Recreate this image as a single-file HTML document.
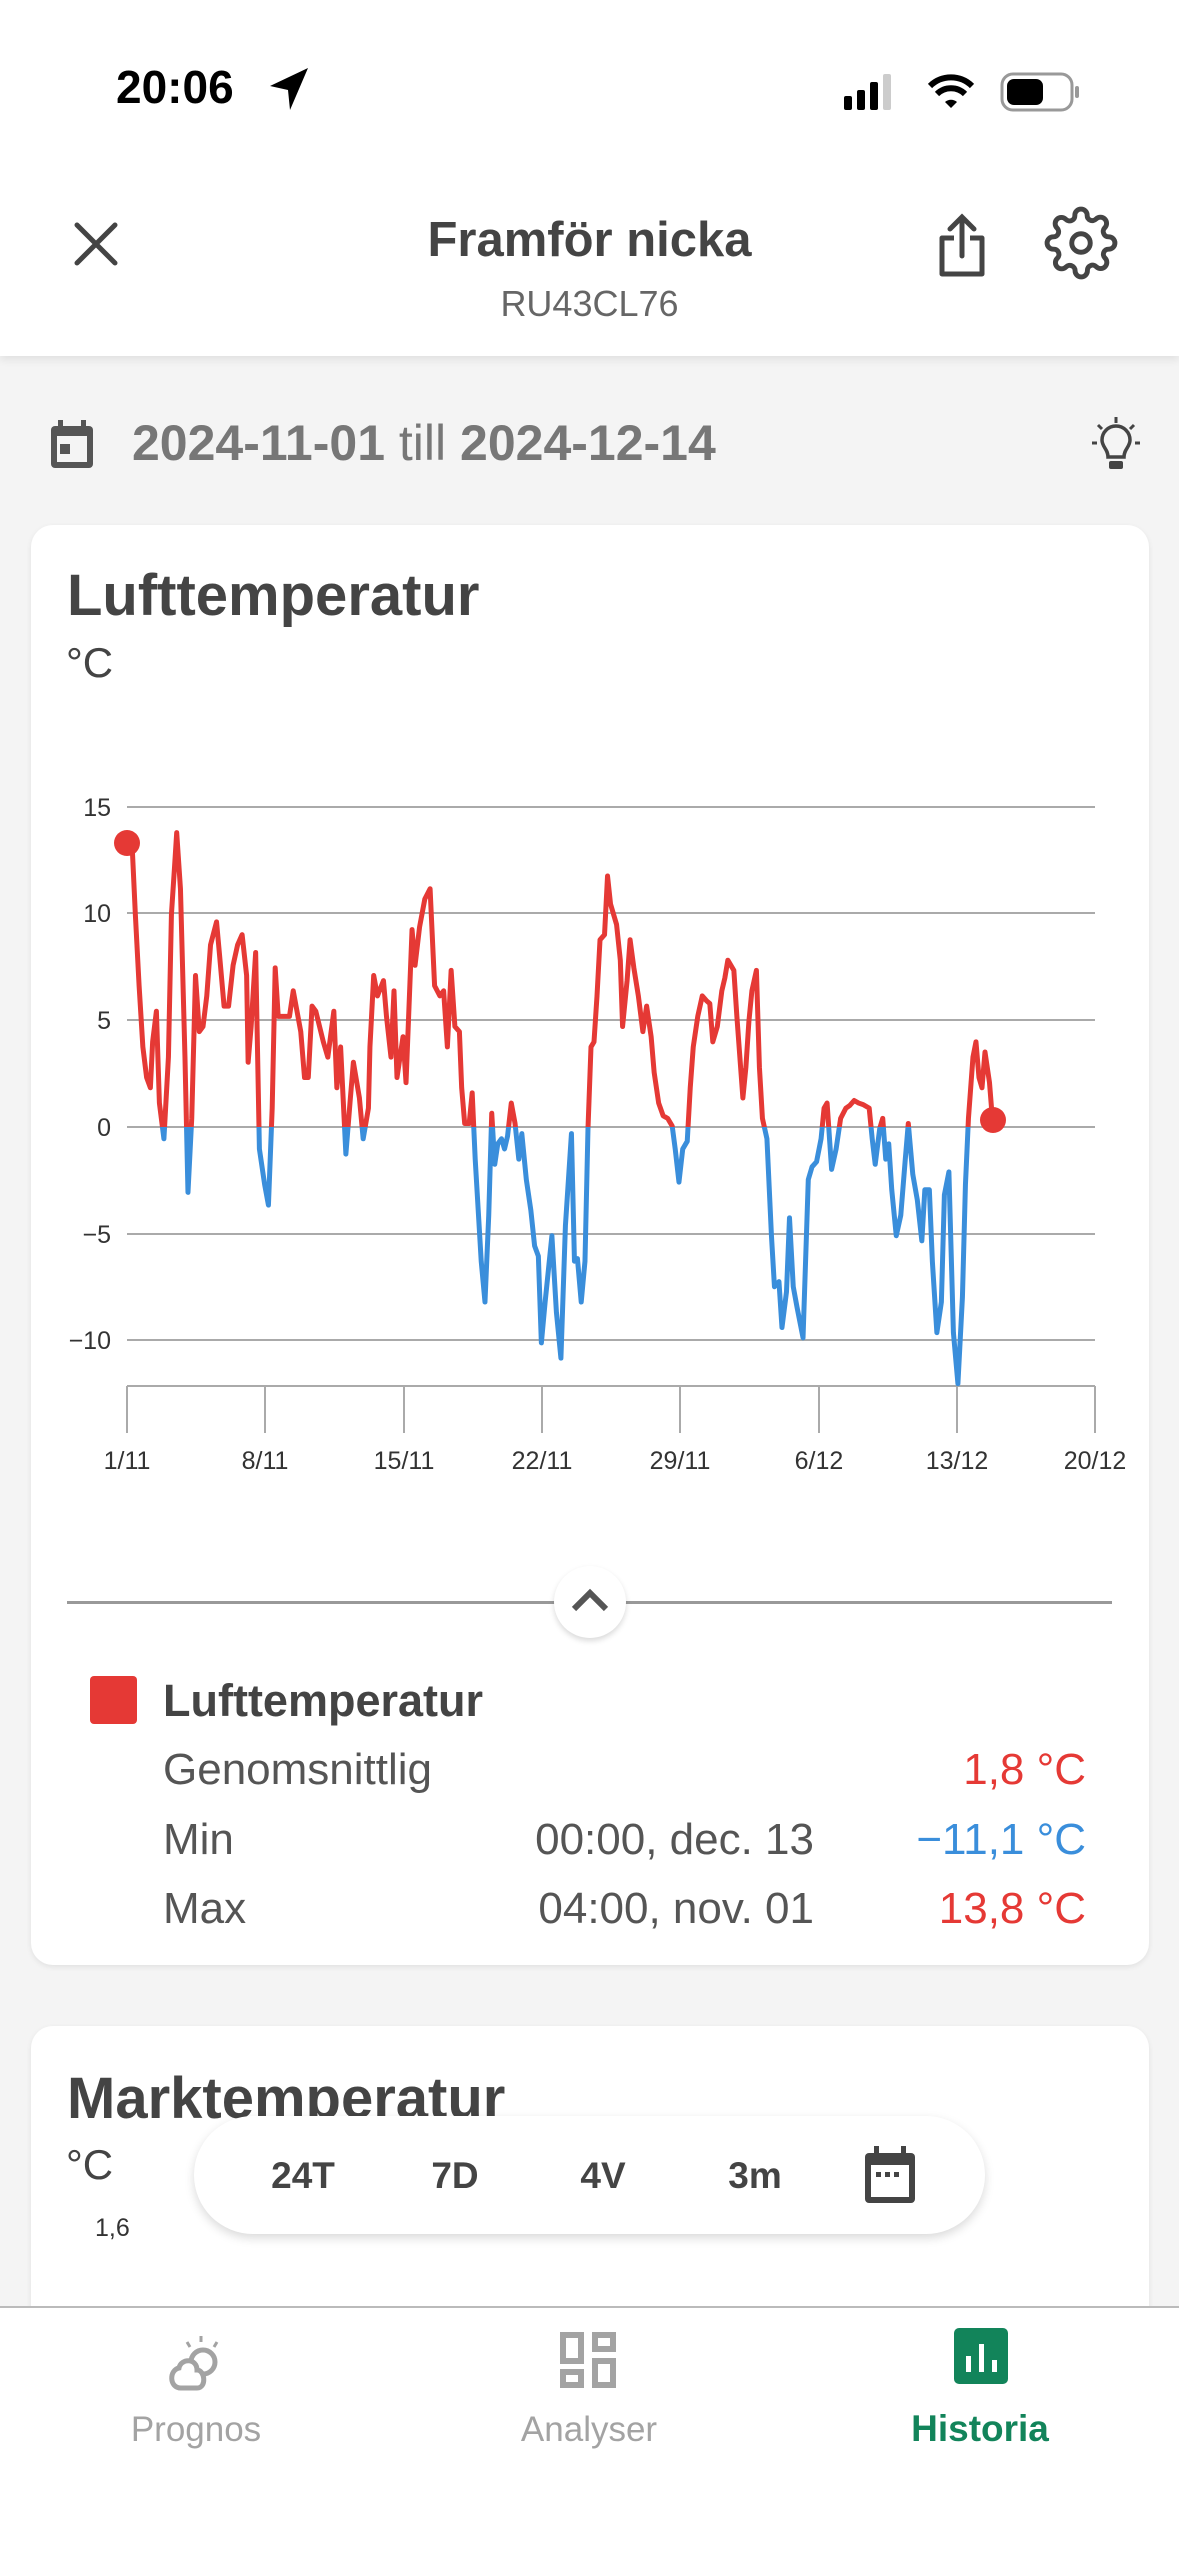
<!DOCTYPE html>
<html><head><meta charset="utf-8">
<style>
*{margin:0;padding:0;box-sizing:border-box}
html,body{width:1179px;height:2556px;overflow:hidden;background:#f4f4f4;font-family:"Liberation Sans",sans-serif}
.abs{position:absolute}
.t{position:absolute;white-space:nowrap;line-height:1}
</style></head><body>
<div class="abs" style="left:0;top:0;width:1179px;height:356px;background:#fff;box-shadow:0 4px 8px rgba(0,0,0,0.08)"></div>
<div class="t" style="left:116px;top:64px;font-size:46px;font-weight:bold;color:#000">20:06</div>
<svg class="abs" style="left:268px;top:66px" width="42" height="46" viewBox="0 0 42 46"><path d="M40 2 L2 20 L20 24 L22 44 Z" fill="#000"/></svg>
<svg class="abs" style="left:840px;top:66px" width="250" height="50" viewBox="0 0 250 50">
<rect x="4" y="30" width="8" height="14" rx="2" fill="#000"/><rect x="17" y="24" width="8" height="20" rx="2" fill="#000"/><rect x="30" y="16" width="8" height="28" rx="2" fill="#000"/><rect x="43" y="8" width="8" height="36" rx="2" fill="#ccc"/>
<path d="M90 20 a30 30 0 0 1 42 0" stroke="#000" stroke-width="6" fill="none"/><path d="M97 28 a20 20 0 0 1 28 0" stroke="#000" stroke-width="6" fill="none"/><path d="M105 36 l6 6 l6 -6 a9 9 0 0 0 -12 0z" fill="#000"/>
<rect x="162" y="8" width="70" height="36" rx="11" stroke="#999" stroke-width="3" fill="none"/><rect x="167" y="13" width="36" height="26" rx="7" fill="#000"/><rect x="235" y="20" width="4" height="12" rx="2" fill="#999"/>
</svg>
<svg class="abs" style="left:72px;top:220px" width="48" height="48" viewBox="0 0 48 48"><path d="M5 5 L43 43 M43 5 L5 43" stroke="#444" stroke-width="5" stroke-linecap="round"/></svg>
<div class="t" style="left:0;width:1179px;text-align:center;top:216px;font-size:49px;font-weight:bold;color:#444">Framför nicka</div>
<div class="t" style="left:0;width:1179px;text-align:center;top:286px;font-size:36px;color:#666">RU43CL76</div>
<svg class="abs" style="left:934px;top:212px" width="56" height="66" viewBox="0 0 56 66"><path d="M20 26 H8 V62 H48 V26 H36" stroke="#444" stroke-width="5" fill="none" stroke-linejoin="round"/><path d="M28 44 V6 M16 17 L28 5 L40 17" stroke="#444" stroke-width="5" fill="none" stroke-linecap="round"/></svg>
<svg class="abs" style="left:1044px;top:206px" width="74" height="74" viewBox="0 0 24 24"><path d="M12 15a3 3 0 1 0 0-6 3 3 0 0 0 0 6z" stroke="#444" stroke-width="1.6" fill="none"/><path d="M19.4 15a1.650 1.650 0 0 0 .33 1.82l.06.06a2 2 0 1 1-2.830 2.830l-.06-.06a1.650 1.650 0 0 0-1.820-.33 1.650 1.650 0 0 0-1 1.510V21a2 2 0 1 1-4 0v-.09A1.650 1.650 0 0 0 9 19.4a1.650 1.650 0 0 0-1.820.33l-.06.06a2 2 0 1 1-2.830-2.830l.06-.06A1.650 1.650 0 0 0 4.680 15a1.650 1.650 0 0 0-1.510-1H3a2 2 0 1 1 0-4h.09A1.650 1.650 0 0 0 4.6 9a1.650 1.650 0 0 0-.33-1.820l-.06-.06a2 2 0 1 1 2.830-2.830l.06.06A1.650 1.650 0 0 0 9 4.680a1.650 1.650 0 0 0 1-1.510V3a2 2 0 1 1 4 0v.09a1.650 1.650 0 0 0 1 1.510 1.650 1.650 0 0 0 1.820-.33l.06-.06a2 2 0 1 1 2.830 2.830l-.06.06A1.650 1.650 0 0 0 19.4 9a1.650 1.650 0 0 0 1.510 1H21a2 2 0 1 1 0 4h-.09a1.650 1.650 0 0 0-1.510 1z" stroke="#444" stroke-width="1.6" fill="none"/></svg>

<svg class="abs" style="left:48px;top:418px" width="48" height="52" viewBox="0 0 48 52"><rect x="3" y="8" width="42" height="42" rx="4" fill="#555"/><rect x="9" y="18" width="30" height="26" fill="#f4f4f4"/><rect x="12" y="26" width="10" height="10" fill="#555"/><rect x="10" y="2" width="5" height="10" fill="#555"/><rect x="33" y="2" width="5" height="10" fill="#555"/></svg>
<div class="t" style="left:132px;top:418px;font-size:50px;color:#777"><b>2024-11-01</b> till <b>2024-12-14</b></div>
<svg class="abs" style="left:1090px;top:415px" width="52" height="58" viewBox="0 0 52 58"><path d="M26 2 V8 M8 10 L12 14 M44 10 L40 14 M2 28 H7 M45 28 H50" stroke="#444" stroke-width="3"/><path d="M18 42 C18 34 12 32 12 25 A14 14 0 0 1 40 25 C40 32 34 34 34 42 Z" stroke="#444" stroke-width="3.5" fill="none"/><rect x="19" y="46" width="14" height="8" rx="2" fill="#444"/></svg>

<!-- card 1 -->
<div class="abs" style="left:31px;top:525px;width:1118px;height:1440px;background:#fff;border-radius:22px;box-shadow:0 2px 6px rgba(0,0,0,0.08)"></div>
<div class="t" style="left:67px;top:567px;font-size:58px;font-weight:bold;color:#444">Lufttemperatur</div>
<div class="t" style="left:66px;top:642px;font-size:42px;color:#444">°C</div>

<svg class="abs" style="left:0;top:700px" width="1179" height="800" viewBox="0 700 1179 800">
<defs>
<clipPath id="above" clipPathUnits="userSpaceOnUse"><rect x="0" y="0" width="1568" height="837"/></clipPath>
<clipPath id="below" clipPathUnits="userSpaceOnUse"><rect x="0" y="837" width="1568" height="900"/></clipPath>
</defs>
<g stroke="#aaa" stroke-width="2">
<line x1="127" y1="807" x2="1095" y2="807"/><line x1="127" y1="913" x2="1095" y2="913"/><line x1="127" y1="1020" x2="1095" y2="1020"/><line x1="127" y1="1127" x2="1095" y2="1127"/><line x1="127" y1="1234" x2="1095" y2="1234"/><line x1="127" y1="1340" x2="1095" y2="1340"/><line x1="127" y1="1386" x2="1095" y2="1386"/>
<line x1="127" y1="1386" x2="127" y2="1433"/><line x1="265" y1="1386" x2="265" y2="1433"/><line x1="404" y1="1386" x2="404" y2="1433"/><line x1="542" y1="1386" x2="542" y2="1433"/><line x1="680" y1="1386" x2="680" y2="1433"/><line x1="819" y1="1386" x2="819" y2="1433"/><line x1="957" y1="1386" x2="957" y2="1433"/><line x1="1095" y1="1386" x2="1095" y2="1433"/>
</g>
<g font-family="Liberation Sans,sans-serif" font-size="25" fill="#333" text-anchor="end">
<text x="111" y="816">15</text><text x="111" y="922">10</text><text x="111" y="1029">5</text><text x="111" y="1136">0</text><text x="111" y="1243">−5</text><text x="111" y="1349">−10</text>
</g>
<g font-family="Liberation Sans,sans-serif" font-size="25" fill="#333" text-anchor="middle">
<text x="127" y="1469">1/11</text><text x="265" y="1469">8/11</text><text x="404" y="1469">15/11</text><text x="542" y="1469">22/11</text><text x="680" y="1469">29/11</text><text x="819" y="1469">6/12</text><text x="957" y="1469">13/12</text><text x="1095" y="1469">20/12</text>
</g>
<g transform="translate(0,700) scale(0.7519,0.5102)">
<defs><polyline id="ser" fill="none" stroke-width="5" vector-effect="non-scaling-stroke" stroke-linejoin="round" points="169,280 175,262 180,420 185,560 190,680 195,740 200,760 203,670 208,610 212,790 218,860 224,700 228,420 232,330 235,260 240,370 246,700 250,965 255,820 260,540 265,650 270,640 275,580 280,480 288,435 292,500 298,600 304,600 310,520 316,480 322,460 328,540 330,710 334,640 340,495 345,880 352,950 357,990 362,800 366,525 370,620 385,620 390,570 395,610 400,650 405,740 410,740 415,600 420,610 430,670 436,700 444,610 448,760 453,680 460,890 466,780 470,710 478,780 483,860 490,800 492,680 497,540 502,580 510,550 514,620 520,700 524,570 528,740 536,660 540,750 548,450 552,520 558,445 565,390 572,370 578,560 585,580 590,570 595,680 600,530 605,640 611,650 614,760 618,830 624,830 628,770 632,900 636,1000 640,1100 645,1180 650,1010 654,810 658,910 662,870 667,860 671,880 675,855 680,790 685,830 690,900 694,850 700,940 706,1000 711,1070 716,1090 720,1260 725,1180 734,1050 740,1200 746,1290 752,1030 760,850 764,1100 768,1095 773,1180 778,1100 782,840 786,680 790,670 794,580 798,470 804,460 808,345 812,400 820,440 825,510 828,640 834,550 838,470 843,525 849,580 855,650 860,600 866,660 870,730 876,790 882,815 888,820 894,835 898,880 903,945 908,880 914,865 918,760 922,680 928,620 934,580 940,590 944,595 948,670 954,640 960,570 964,545 968,510 972,520 976,530 980,620 984,700 988,780 992,720 996,630 1000,570 1006,530 1010,720 1014,820 1020,860 1026,1050 1030,1150 1036,1140 1040,1230 1046,1160 1050,1015 1055,1150 1060,1190 1068,1250 1075,940 1080,915 1086,905 1092,860 1096,800 1100,790 1106,920 1112,880 1118,820 1125,800 1130,795 1136,785 1142,790 1148,793 1156,800 1160,860 1164,910 1170,840 1174,820 1178,900 1182,870 1186,960 1192,1050 1198,1010 1204,900 1208,830 1214,930 1220,980 1226,1060 1230,960 1236,960 1240,1100 1246,1240 1252,1180 1256,970 1262,925 1268,1240 1274,1340 1280,1170 1284,950 1288,820 1294,700 1298,670 1302,740 1306,760 1310,690 1316,750 1320,824"/></defs>
<use href="#ser" stroke="#e53935" clip-path="url(#above)"/>
<use href="#ser" stroke="#3a8edb" clip-path="url(#below)"/>
</g>
<circle cx="127" cy="843" r="13" fill="#e53935"/>
<circle cx="993" cy="1120" r="13" fill="#e53935"/>
</svg>

<div class="abs" style="left:67px;top:1601px;width:1045px;height:3px;background:#999"></div>
<div class="abs" style="left:554px;top:1566px;width:72px;height:72px;border-radius:50%;background:#fff;box-shadow:0 3px 6px rgba(0,0,0,0.15)"></div>
<svg class="abs" style="left:570px;top:1585px" width="40" height="30" viewBox="0 0 40 30"><path d="M4 24 L20 8 L36 24" stroke="#555" stroke-width="6" fill="none"/></svg>

<div class="abs" style="left:90px;top:1676px;width:47px;height:48px;background:#e53935;border-radius:4px"></div>
<div class="t" style="left:163px;top:1678px;font-size:45px;font-weight:bold;color:#444">Lufttemperatur</div>
<div class="t" style="left:163px;top:1748px;font-size:44px;color:#555">Genomsnittlig</div>
<div class="t" style="left:163px;top:1818px;font-size:44px;color:#555">Min</div>
<div class="t" style="left:163px;top:1887px;font-size:44px;color:#555">Max</div>
<div class="t" style="right:365px;top:1818px;font-size:44px;color:#555">00:00, dec. 13</div>
<div class="t" style="right:365px;top:1887px;font-size:44px;color:#555">04:00, nov. 01</div>
<div class="t" style="right:93px;top:1748px;font-size:44px;color:#e53935">1,8 °C</div>
<div class="t" style="right:93px;top:1818px;font-size:44px;color:#3a8edb">−11,1 °C</div>
<div class="t" style="right:93px;top:1887px;font-size:44px;color:#e53935">13,8 °C</div>

<!-- card 2 -->
<div class="abs" style="left:31px;top:2026px;width:1118px;height:400px;background:#fff;border-radius:22px;box-shadow:0 2px 6px rgba(0,0,0,0.08)"></div>
<div class="t" style="left:67px;top:2070px;font-size:58px;font-weight:bold;color:#444">Marktemperatur</div>
<div class="t" style="left:66px;top:2144px;font-size:42px;color:#444">°C</div>
<div class="t" style="left:95px;top:2216px;font-size:25px;color:#333">1,6</div>

<div class="abs" style="left:194px;top:2116px;width:791px;height:118px;border-radius:59px;background:#fff;box-shadow:0 4px 10px rgba(0,0,0,0.15)"></div>
<div class="t" style="left:303px;top:2157px;font-size:37px;font-weight:bold;color:#444;transform:translateX(-50%)">24T</div>
<div class="t" style="left:455px;top:2157px;font-size:37px;font-weight:bold;color:#444;transform:translateX(-50%)">7D</div>
<div class="t" style="left:603px;top:2157px;font-size:37px;font-weight:bold;color:#444;transform:translateX(-50%)">4V</div>
<div class="t" style="left:755px;top:2157px;font-size:37px;font-weight:bold;color:#444;transform:translateX(-50%)">3m</div>
<svg class="abs" style="left:862px;top:2145px" width="56" height="60" viewBox="0 0 56 60"><rect x="3" y="8" width="50" height="50" rx="4" fill="#444"/><rect x="9" y="20" width="38" height="32" fill="#fff"/><rect x="14" y="27" width="5" height="5" fill="#444"/><rect x="23" y="27" width="5" height="5" fill="#444"/><rect x="32" y="27" width="5" height="5" fill="#444"/><rect x="12" y="1" width="5" height="10" fill="#444"/><rect x="39" y="1" width="5" height="10" fill="#444"/></svg>

<!-- bottom nav -->
<div class="abs" style="left:0;top:2306px;width:1179px;height:250px;background:#fff;border-top:2px solid #bbb"></div>
<svg class="abs" style="left:165px;top:2330px" width="62" height="62" viewBox="0 0 62 62"><path d="M36 6 V12 M22 12 L25 17 M52 12 L49 17" stroke="#a3a3a3" stroke-width="3"/><circle cx="38" cy="32" r="12" stroke="#a3a3a3" stroke-width="5" fill="none"/><path d="M16 58 C4 58 4 40 14 38 C16 28 32 28 32 40 C40 40 42 58 32 58 Z" stroke="#a3a3a3" stroke-width="5" fill="#fff"/></svg>
<svg class="abs" style="left:560px;top:2332px" width="56" height="56" viewBox="0 0 56 56"><g stroke="#a3a3a3" stroke-width="6" fill="none"><rect x="3" y="3" width="18" height="26"/><rect x="35" y="3" width="18" height="14"/><rect x="3" y="40" width="18" height="13"/><rect x="35" y="29" width="18" height="24"/></g></svg>
<svg class="abs" style="left:954px;top:2328px" width="56" height="56" viewBox="0 0 56 56"><rect x="0" y="0" width="54" height="56" rx="5" fill="#12845a"/><rect x="12" y="28" width="5" height="16" fill="#fff"/><rect x="25" y="16" width="5" height="28" fill="#fff"/><rect x="38" y="32" width="5" height="12" fill="#fff"/></svg>
<div class="t" style="left:196px;top:2412px;font-size:35px;color:#a3a3a3;transform:translateX(-50%)">Prognos</div>
<div class="t" style="left:589px;top:2412px;font-size:35px;color:#a3a3a3;transform:translateX(-50%)">Analyser</div>
<div class="t" style="left:980px;top:2410px;font-size:37px;font-weight:bold;color:#12845a;transform:translateX(-50%)">Historia</div>
</body></html>
